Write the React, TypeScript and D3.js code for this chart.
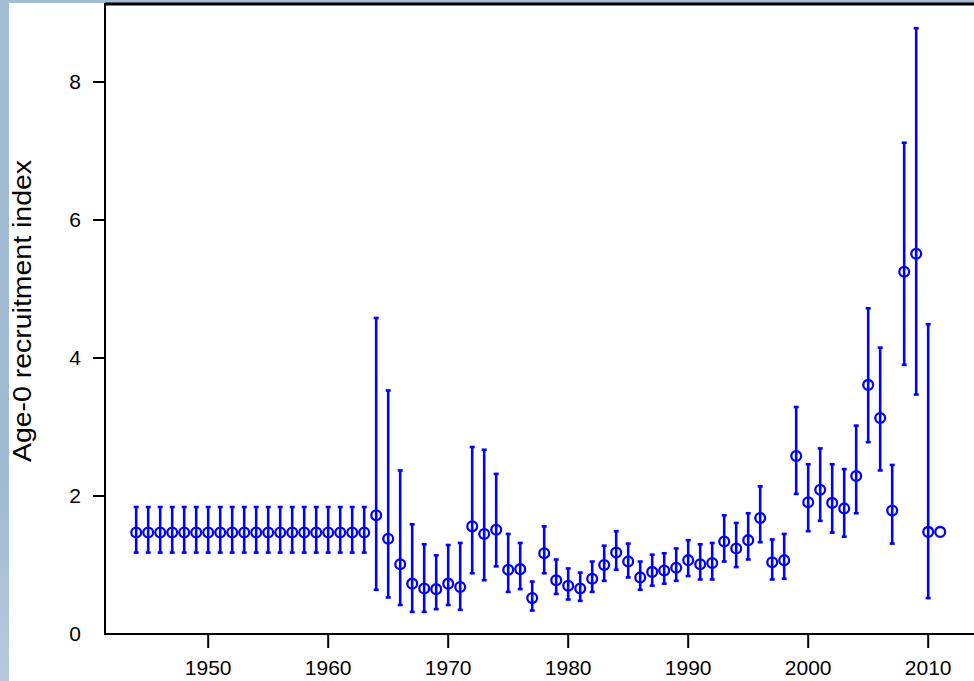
import React from "react";
import * as d3 from "d3";

const years = [
  1944, 1945, 1946, 1947, 1948, 1949, 1950, 1951, 1952, 1953, 1954, 1955, 1956, 1957, 1958, 1959,
  1960, 1961, 1962, 1963, 1964, 1965, 1966, 1967, 1968, 1969, 1970, 1971, 1972, 1973, 1974, 1975,
  1976, 1977, 1978, 1979, 1980, 1981, 1982, 1983, 1984, 1985, 1986, 1987, 1988, 1989, 1990, 1991,
  1992, 1993, 1994, 1995, 1996, 1997, 1998, 1999, 2000, 2001, 2002, 2003, 2004, 2005, 2006, 2007,
  2008, 2009, 2010, 2011,
];

const indexValues = [
  1.47, 1.47, 1.47, 1.47, 1.47, 1.47, 1.47, 1.47, 1.47, 1.47, 1.47, 1.47, 1.47, 1.47, 1.47, 1.47,
  1.47, 1.47, 1.47, 1.47, 1.72, 1.38, 1.01, 0.73, 0.66, 0.65, 0.73, 0.68, 1.56, 1.45, 1.51, 0.93,
  0.94, 0.52, 1.17, 0.78, 0.70, 0.66, 0.80, 1.00, 1.18, 1.05, 0.82, 0.90, 0.92, 0.96, 1.07, 1.01,
  1.03, 1.34, 1.24, 1.36, 1.68, 1.04, 1.07, 2.58, 1.91, 2.09, 1.90, 1.82, 2.29, 3.61, 3.13, 1.79,
  5.25, 5.51, 1.48, 1.48,
];

const lowerValues: (number | null)[] = [
  1.18, 1.18, 1.18, 1.18, 1.18, 1.18, 1.18, 1.18, 1.18, 1.18, 1.18, 1.18, 1.18, 1.18, 1.18, 1.18,
  1.18, 1.18, 1.18, 1.18, 0.64, 0.53, 0.42, 0.32, 0.32, 0.36, 0.42, 0.35, 0.88, 0.78, 0.98, 0.61,
  0.65, 0.34, 0.88, 0.58, 0.50, 0.48, 0.61, 0.77, 0.93, 0.82, 0.64, 0.70, 0.73, 0.77, 0.84, 0.79,
  0.79, 1.05, 0.97, 1.08, 1.33, 0.79, 0.80, 2.03, 1.49, 1.64, 1.47, 1.41, 1.75, 2.78, 2.37, 1.31,
  3.90, 3.47, 0.52, null,
];

const upperValues: (number | null)[] = [
  1.84, 1.84, 1.84, 1.84, 1.84, 1.84, 1.84, 1.84, 1.84, 1.84, 1.84, 1.84, 1.84, 1.84, 1.84, 1.84,
  1.84, 1.84, 1.84, 1.84, 4.58, 3.53, 2.37, 1.59, 1.30, 1.14, 1.29, 1.32, 2.71, 2.67, 2.32, 1.45,
  1.32, 0.76, 1.56, 1.08, 0.95, 0.89, 1.05, 1.28, 1.49, 1.31, 1.05, 1.15, 1.17, 1.24, 1.36, 1.30,
  1.32, 1.72, 1.61, 1.75, 2.14, 1.37, 1.45, 3.29, 2.46, 2.69, 2.46, 2.39, 3.02, 4.72, 4.15, 2.45,
  7.12, 8.78, 4.49, null,
];

const xTicks = [1950, 1960, 1970, 1980, 1990, 2000, 2010];
const yTicks = [0, 2, 4, 6, 8];
const yLabel = "Age-0 recruitment index";

const W = 974;
const H = 681;
const left = 105;
const top = 4;
const bottom = 634;
const right = 975;

export default function App() {
  const x = d3.scaleLinear().domain([1941.4, 2013.9]).range([left, right]);
  const y = d3.scaleLinear().domain([0, 9.13]).range([bottom, top]);
  const blue = "#0000ff";
  const font = "Liberation Sans, Arial, sans-serif";

  return (
    <div style={{ position: "fixed", left: 0, top: 0, width: W, height: H, background: "#fff" }}>
      <svg width={W} height={H} style={{ display: "block" }}>
        <defs>
          <linearGradient id="bgGrad" x1="0" y1="0" x2="0" y2="1">
            <stop offset="0" stopColor="#a3bdd4" />
            <stop offset="0.7" stopColor="#9fbad1" />
            <stop offset="1" stopColor="#b6cadc" />
          </linearGradient>
        </defs>
        <rect x={0} y={0} width={W} height={H} fill="#ffffff" />
        <rect x={0} y={0} width={9} height={H} fill="url(#bgGrad)" />
        <rect x={0} y={0} width={W} height={3} fill="#a3bdd4" />

        {/* plot box */}
        <rect x={left} y={top} width={right - left} height={bottom - top} fill="none" stroke="#000" strokeWidth={2} />
        <line x1={left} x2={W} y1={top} y2={top} stroke="#000" strokeWidth={3} />

        {/* x axis ticks */}
        {xTicks.map((t) => (
          <g key={"x" + t}>
            <line x1={x(t)} x2={x(t)} y1={bottom} y2={bottom + 14} stroke="#000" strokeWidth={2} />
            <text x={x(t)} y={675} textAnchor="middle" fontFamily={font} fontSize={21} fill="#000">
              {t}
            </text>
          </g>
        ))}

        {/* y axis ticks */}
        {yTicks.map((t) => (
          <g key={"y" + t}>
            {t !== 0 && <line x1={left - 12} x2={left} y1={y(t)} y2={y(t)} stroke="#000" strokeWidth={2} />}
            <text x={81} y={y(t)} dy="0.35em" textAnchor="end" fontFamily={font} fontSize={21} fill="#000">
              {t}
            </text>
          </g>
        ))}

        <text
          transform={`translate(31, 311) rotate(-90)`}
          textAnchor="middle"
          fontFamily={font}
          fontSize={26}
          textLength={302}
          lengthAdjust="spacingAndGlyphs"
          fill="#000"
        >
          {yLabel}
        </text>

        {/* error bars */}
        {years.map((yr, i) => {
          const lo = lowerValues[i];
          const hi = upperValues[i];
          if (lo == null || hi == null) return null;
          const cx = x(yr);
          return (
            <g key={"e" + yr} stroke={blue} strokeWidth={2.6}>
              <line x1={cx} x2={cx} y1={y(lo)} y2={y(hi)} />
              <line x1={cx - 2.5} x2={cx + 2.5} y1={y(lo)} y2={y(lo)} />
              <line x1={cx - 2.5} x2={cx + 2.5} y1={y(hi)} y2={y(hi)} />
            </g>
          );
        })}

        {/* points */}
        {years.map((yr, i) => (
          <circle key={"p" + yr} cx={x(yr)} cy={y(indexValues[i])} r={4.9} fill="none" stroke={blue} strokeWidth={2.3} />
        ))}
      </svg>
    </div>
  );
}
